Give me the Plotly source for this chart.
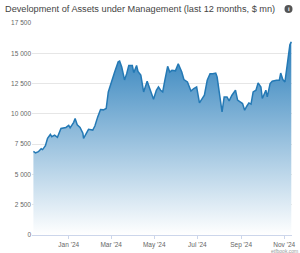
import plotly.graph_objects as go

dates = [
    "2023-11-12", "2023-11-15", "2023-11-19", "2023-11-23", "2023-11-25", "2023-11-29",
    "2023-12-02", "2023-12-06", "2023-12-08", "2023-12-12", "2023-12-16", "2023-12-21",
    "2023-12-28", "2024-01-01", "2024-01-03", "2024-01-08", "2024-01-10", "2024-01-13",
    "2024-01-17", "2024-01-21", "2024-01-22", "2024-01-26", "2024-01-29", "2024-02-04",
    "2024-02-07", "2024-02-11", "2024-02-15", "2024-02-19", "2024-02-23", "2024-02-26",
    "2024-03-01", "2024-03-06", "2024-03-11", "2024-03-13", "2024-03-16", "2024-03-20",
    "2024-03-23", "2024-03-26", "2024-03-31", "2024-04-02", "2024-04-06", "2024-04-08",
    "2024-04-12", "2024-04-16", "2024-04-21", "2024-04-24", "2024-04-30", "2024-05-04",
    "2024-05-07", "2024-05-10", "2024-05-13", "2024-05-16", "2024-05-20", "2024-05-23",
    "2024-05-26", "2024-05-31", "2024-06-04", "2024-06-09", "2024-06-12", "2024-06-17",
    "2024-06-22", "2024-06-26", "2024-06-30", "2024-07-04", "2024-07-08", "2024-07-11",
    "2024-07-15", "2024-07-19", "2024-07-23", "2024-07-27", "2024-07-29", "2024-08-01",
    "2024-08-05", "2024-08-08", "2024-08-12", "2024-08-15", "2024-08-19", "2024-08-24",
    "2024-08-27", "2024-09-03", "2024-09-06", "2024-09-09", "2024-09-12", "2024-09-15",
    "2024-09-18", "2024-09-22", "2024-09-25", "2024-09-29", "2024-10-01", "2024-10-06",
    "2024-10-08", "2024-10-12", "2024-10-15", "2024-10-21", "2024-10-25", "2024-10-27",
    "2024-10-30", "2024-11-02", "2024-11-05", "2024-11-09", "2024-11-11",
]
aum = [
    6900, 6780, 6880, 7120, 7050, 7370,
    7980, 8300, 8110, 8250, 8060, 8800,
    8880, 9050, 8850, 9300, 9620, 9100,
    8880, 8400, 7980, 8390, 8720, 8660,
    9000, 9750, 10360, 10330, 10440, 11810,
    12630, 13450, 14300, 14360, 13870, 12800,
    13320, 14000, 14000, 13400, 14000, 13500,
    13200, 11810, 12700, 12220, 11200, 11950,
    12220, 11950, 11810, 12770, 13920, 13450,
    13590, 13550, 14140, 13450, 12830, 12630,
    11890, 12090, 12220, 10900, 11270, 11540,
    12770, 13320, 13320, 13370, 13040, 11950,
    10170, 11400, 11400, 11070, 11540, 11950,
    11130, 10850, 10300, 10630, 10900, 10800,
    11810, 11950, 12560, 12220, 11270, 11950,
    11400, 12500, 12700, 12770, 12770, 13370,
    12830, 12630, 14140, 15700, 15950,
]

ytick_vals = [0, 2500, 5000, 7500, 10000, 12500, 15000, 17500]
xtick_vals = ["2024-01-01", "2024-03-01", "2024-05-01", "2024-07-01", "2024-09-01", "2024-11-01"]
xtick_text = ["Jan '24", "Mar '24", "May '24", "Jul '24", "Sep '24", "Nov '24"]

title_text = "Development of Assets under Management (last 12 months, $ mn)"

L, R, T, B = 32, 8, 23, 18
PW, PH = 300 - L - R, 253 - T - B

def px(x):
    return (x - L) / PW

def py(y):
    return (253 - B - y) / PH

fig = go.Figure()
fig.add_trace(go.Scatter(
    x=dates, y=aum, mode="lines",
    line=dict(color="#2479b5", width=1.5),
    fill="tozeroy",
    fillgradient=dict(type="vertical", start=0, stop=16000,
                      colorscale=[[0, "rgba(255,255,255,1)"], [1, "rgb(44,127,187)"]]),
    hoverinfo="skip",
))

fig.update_layout(
    width=300, height=253,
    margin=dict(l=L, r=R, t=T, b=B, autoexpand=False),
    paper_bgcolor="white", plot_bgcolor="white",
    showlegend=False,
    separators=". ",
    font=dict(family="Liberation Sans, Arial, sans-serif", color="#666666", size=7),
    xaxis=dict(
        type="date", range=["2023-11-10", "2024-11-12"],
        tickvals=xtick_vals, ticktext=xtick_text,
        showgrid=False, showline=True, linecolor="#ccd6eb", linewidth=1,
        ticks="outside", ticklen=3, tickcolor="#ccd6eb",
        tickfont=dict(size=6.5, color="#666666"), automargin=False,
    ),
    yaxis=dict(
        range=[0, 17500], tickvals=ytick_vals,
        tickformat=",d",
        showgrid=True, gridcolor="#e6e6e6", gridwidth=1,
        zeroline=False, showline=False, ticks="",
        tickfont=dict(size=6.5, color="#666666"), automargin=False,
    ),
)

fig.add_annotation(
    text=title_text, xref="paper", yref="paper",
    x=px(3), y=py(9), xanchor="left", yanchor="middle",
    showarrow=False, font=dict(size=9.2, color="#444444"),
)
# info icon
fig.add_shape(type="circle", xref="paper", yref="paper",
              x0=px(284.5), x1=px(292.5), y0=py(13), y1=py(5),
              fillcolor="#555555", line=dict(width=0))
fig.add_annotation(
    text="<b>i</b>", xref="paper", yref="paper",
    x=px(288.5), y=py(9), xanchor="center", yanchor="middle",
    showarrow=False, font=dict(size=6, color="white"),
)
fig.add_annotation(
    text="etfbook.com", xref="paper", yref="paper",
    x=px(299), y=py(250.5), xanchor="right", yanchor="middle",
    showarrow=False, font=dict(size=5, color="#999999"), borderpad=0,
)

fig.write_html("out.html")
